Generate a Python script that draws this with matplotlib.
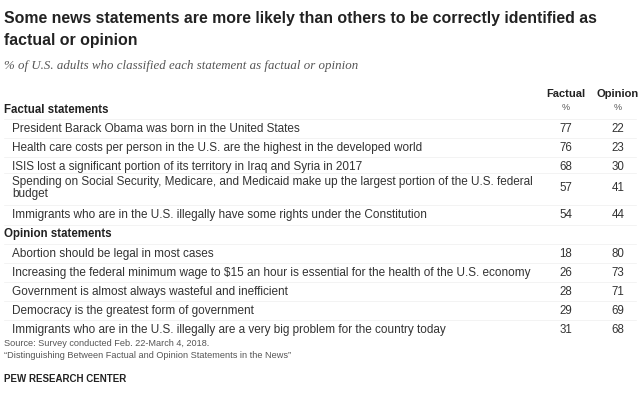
import matplotlib
matplotlib.use('Agg')
import matplotlib.pyplot as plt

factual_items = ['President Barack Obama was born in the United States',
                 'Health care costs per person in the U.S. are the highest in the developed world',
                 'ISIS lost a significant portion of its territory in Iraq and Syria in 2017',
                 'Spending on Social Security, Medicare, and Medicaid make up the largest portion of the U.S. federal\nbudget',
                 'Immigrants who are in the U.S. illegally have some rights under the Constitution']
factual_f = [77, 76, 68, 57, 54]
factual_o = [22, 23, 30, 41, 44]
opinion_items = ['Abortion should be legal in most cases',
                 'Increasing the federal minimum wage to $15 an hour is essential for the health of the U.S. economy',
                 'Government is almost always wasteful and inefficient',
                 'Democracy is the greatest form of government',
                 'Immigrants who are in the U.S. illegally are a very big problem for the country today']
opinion_f = [18, 26, 28, 29, 31]
opinion_o = [80, 73, 71, 69, 68]

W, H = 640, 404
fig = plt.figure(figsize=(6.4, 4.04), dpi=100)
plt.rcParams['font.family'] = ['Liberation Sans', 'DejaVu Sans']

def T(x, y, s, **kw):
    fig.text(x / W, 1 - y / H, s, va='center', **kw)

def hline(y):
    fig.add_artist(plt.Line2D([4 / W, 636 / W], [1 - y / H] * 2, color='#efefef', lw=0.5))

T(4, 18, 'Some news statements are more likely than others to be correctly identified as', fontsize=11.4, weight='bold', color='#222222')
T(4, 40, 'factual or opinion', fontsize=11.4, weight='bold', color='#222222')
T(4, 66, '% of U.S. adults who classified each statement as factual or opinion', fontsize=9.3, style='italic', color='#555555', family='Liberation Serif')

XF, XO = 566, 618
T(XF, 94, 'Factual', fontsize=8, weight='bold', ha='center', color='#222222')
T(XO, 94, 'Opinion', fontsize=8, weight='bold', ha='center', color='#222222')
T(XF, 108, '%', fontsize=6.5, ha='center', color='#555555')
T(XO, 108, '%', fontsize=6.5, ha='center', color='#555555')

def section(y0, title, items, fv, ov, ys):
    T(4, y0, title, fontsize=8.3, weight='bold', color='#222222')
    for item, f, o, y in zip(items, fv, ov, ys):
        T(12, y, item, fontsize=8.5, color='#333333', linespacing=1.1)
        T(XF, y, str(f), fontsize=8.3, ha='center', color='#333333')
        T(XO, y, str(o), fontsize=8.3, ha='center', color='#333333')
        hline(y - 10 if '\n' not in item else y - 15)

section(110, 'Factual statements', factual_items, factual_f, factual_o, [129, 148, 167, 188, 215])
hline(225)
section(234, 'Opinion statements', opinion_items, opinion_f, opinion_o, [254, 273, 292, 311, 330])

T(4, 344, 'Source: Survey conducted Feb. 22-March 4, 2018.', fontsize=6.6, color='#555555')
T(4, 356, '\u201cDistinguishing Between Factual and Opinion Statements in the News\u201d', fontsize=6.6, color='#555555')
T(4, 379, 'PEW RESEARCH CENTER', fontsize=7, weight='bold', color='#222222')

fig.savefig('out.png', dpi=100)
